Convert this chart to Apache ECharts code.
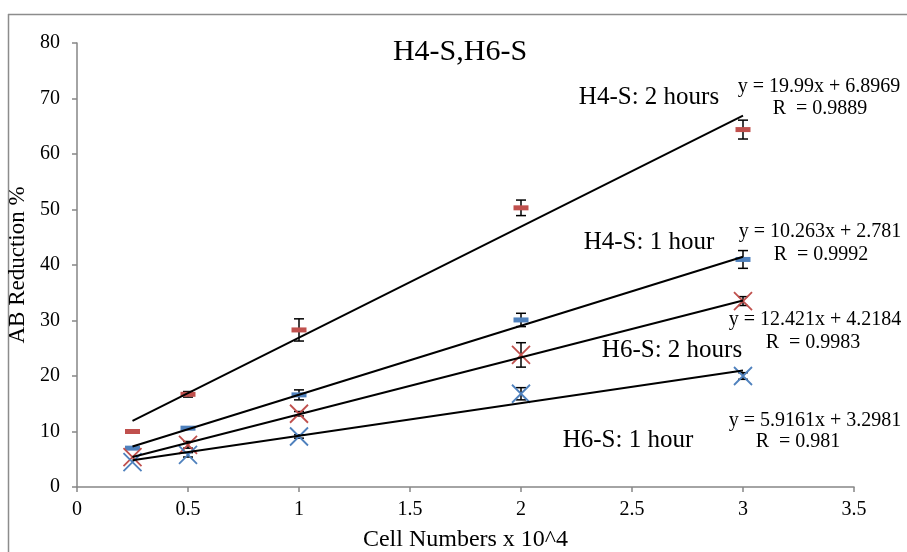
<!DOCTYPE html>
<html><head><meta charset="utf-8">
<script src="https://cdn.jsdelivr.net/npm/echarts@6/dist/echarts.min.js"></script>
<style>html,body{margin:0;padding:0;background:#fff}#c{width:907px;height:552px}</style>
</head><body><div id="c"></div>
<script>
// Cell numbers (x 10^4)
const xValues = [0.25, 0.5, 1, 2, 3];
// AB Reduction % per series
const h4s2h = [10.0, 16.7, 28.3, 50.3, 64.4];
const h4s2hErr = [0, 0.5, 2.0, 1.4, 1.7];
const h4s1h = [7.0, 10.6, 16.6, 30.1, 41.0];
const h4s1hErr = [0, 0, 0.9, 1.2, 1.6];
const h6s2h = [5.4, 7.6, 13.2, 23.8, 33.5];
const h6s2hErr = [0, 0.6, 0.4, 2.2, 0.8];
const h6s1h = [4.5, 5.8, 9.1, 16.8, 20.0];
const h6s1hErr = [0, 0.4, 0.3, 1.1, 0.6];
// Linear trendline end points (x = 0.25 and x = 3)
const trendX = [0.25, 3];
const trendA = [11.9, 66.9];
const trendB = [7.3, 41.5];
const trendC = [5.4, 33.6];
const trendD = [4.8, 21.0];
// Axis ticks
const xTicks = [0, 0.5, 1, 1.5, 2, 2.5, 3, 3.5];
const yTicks = [0, 10, 20, 30, 40, 50, 60, 70, 80];
// Annotations
const titleText = 'H4-S,H6-S';
const seriesLabels = ['H4-S: 2 hours', 'H4-S: 1 hour', 'H6-S: 2 hours', 'H6-S: 1 hour'];
const eqLabels = ['y = 19.99x + 6.8969', 'y = 10.263x + 2.781', 'y = 12.421x + 4.2184', 'y = 5.9161x + 3.2981'];
const rLabels = ['R  = 0.9889', 'R  = 0.9992', 'R  = 0.9983', 'R  = 0.981'];

const FONT = '"Liberation Serif", "Times New Roman", serif';
const RED = '#C0504D', BLUE = '#4F81BD';
const AXIS = '#868686';

const pts = ys => xValues.map((x, i) => [x, ys[i]]);
const errPts = (ys, es) => xValues.map((x, i) => [x, ys[i], es[i]]);
const line = ys => trendX.map((x, i) => [x, ys[i]]);

function errBar(params, api) {
  const x = api.value(0), y = api.value(1), e = api.value(2);
  if (!e) return null;
  const t = api.coord([x, y + e]);
  const b = api.coord([x, y - e]);
  const w = 5;
  const st = { stroke: '#000', lineWidth: 1.5 };
  return { type: 'group', children: [
    { type: 'line', shape: { x1: t[0], y1: t[1], x2: b[0], y2: b[1] }, style: st },
    { type: 'line', shape: { x1: t[0] - w, y1: t[1], x2: t[0] + w, y2: t[1] }, style: st },
    { type: 'line', shape: { x1: b[0] - w, y1: b[1], x2: b[0] + w, y2: b[1] }, style: st }
  ]};
}

const X_SYM = 'path://M0,0L10,10M10,0L0,10';

const series = [];
function addErr(ys, es) {
  series.push({ type: 'custom', renderItem: errBar, data: errPts(ys, es), z: 2, silent: true });
}
addErr(h4s2h, h4s2hErr); addErr(h4s1h, h4s1hErr); addErr(h6s2h, h6s2hErr); addErr(h6s1h, h6s1hErr);
series.push({ name: 'H4-S: 2 hours', type: 'scatter', data: pts(h4s2h), symbol: 'rect', symbolSize: [15, 5], itemStyle: { color: RED, opacity: 1 }, z: 3 });
series.push({ name: 'H4-S: 1 hour', type: 'scatter', data: pts(h4s1h), symbol: 'rect', symbolSize: [15, 5], itemStyle: { color: BLUE, opacity: 1 }, z: 3 });
series.push({ name: 'H6-S: 2 hours', type: 'scatter', data: pts(h6s2h), symbol: X_SYM, symbolSize: 18, itemStyle: { color: 'none', borderColor: RED, borderWidth: 1.8, opacity: 1 }, z: 3 });
series.push({ name: 'H6-S: 1 hour', type: 'scatter', data: pts(h6s1h), symbol: X_SYM, symbolSize: 18, itemStyle: { color: 'none', borderColor: BLUE, borderWidth: 1.8, opacity: 1 }, z: 3 });
[trendA, trendB, trendC, trendD].forEach(t => series.push({
  type: 'line', data: line(t), symbol: 'none', lineStyle: { color: '#000', width: 2 }, z: 4, silent: true
}));

function txt(x, y, text, size) {
  return { type: 'text', x: x, y: y, z: 10, style: { text: text, fill: '#000', font: size + 'px ' + FONT, textAlign: 'center', textVerticalAlign: 'middle' } };
}

const option = {
  animation: false,
  backgroundColor: '#fff',
  grid: { left: 77, right: 53, top: 43, bottom: 65, containLabel: false, outerBoundsMode: 'none' },
  xAxis: {
    type: 'value', min: 0, max: 3.5, interval: 0.5,
    name: 'Cell Numbers x 10^4', nameLocation: 'middle', nameGap: 41,
    nameTextStyle: { fontFamily: FONT, fontSize: 24, color: '#000' },
    axisLine: { lineStyle: { color: AXIS, width: 1.5 } },
    axisTick: { show: true, length: 5, inside: false, lineStyle: { color: AXIS, width: 1.5 } },
    axisLabel: { fontFamily: FONT, fontSize: 20, color: '#000', margin: 13,
      formatter: v => String(xTicks.find(t => Math.abs(t - v) < 1e-9) ?? v) },
    splitLine: { show: false }
  },
  yAxis: {
    type: 'value', min: 0, max: 80, interval: 10,
    name: 'AB Reduction %', nameLocation: 'middle', nameGap: 36, nameRotate: 90,
    nameTextStyle: { fontFamily: FONT, fontSize: 23, color: '#000' },
    axisLine: { show: true, lineStyle: { color: AXIS, width: 1.5 } },
    axisTick: { show: true, length: 5, inside: false, lineStyle: { color: AXIS, width: 1.5 } },
    axisLabel: { fontFamily: FONT, fontSize: 20, color: '#000', margin: 17,
      formatter: v => String(yTicks.find(t => t === v) ?? v) },
    splitLine: { show: false }
  },
  graphic: [
    { type: 'line', shape: { x1: 8, y1: 14.5, x2: 907, y2: 14.5 }, style: { stroke: '#8c8c8c', lineWidth: 1.5 } },
    { type: 'line', shape: { x1: 8.5, y1: 14, x2: 8.5, y2: 552 }, style: { stroke: '#8c8c8c', lineWidth: 1.5 } },
    txt(460, 52, titleText, 30),
    txt(649, 97, seriesLabels[0], 25),
    txt(649, 242, seriesLabels[1], 25),
    txt(672, 350, seriesLabels[2], 25),
    txt(628, 440, seriesLabels[3], 25),
    txt(819, 87, eqLabels[0], 20),
    txt(820, 109, rLabels[0], 20),
    txt(820, 232, eqLabels[1], 20),
    txt(821, 255, rLabels[1], 20),
    txt(815, 320, eqLabels[2], 20),
    txt(813, 343, rLabels[2], 20),
    txt(815, 421, eqLabels[3], 20),
    txt(798, 442, rLabels[3], 20)
  ],
  series: series
};

const chart = echarts.init(document.getElementById('c'), null, { renderer: 'canvas' });
chart.setOption(option);
</script>
</body></html>
